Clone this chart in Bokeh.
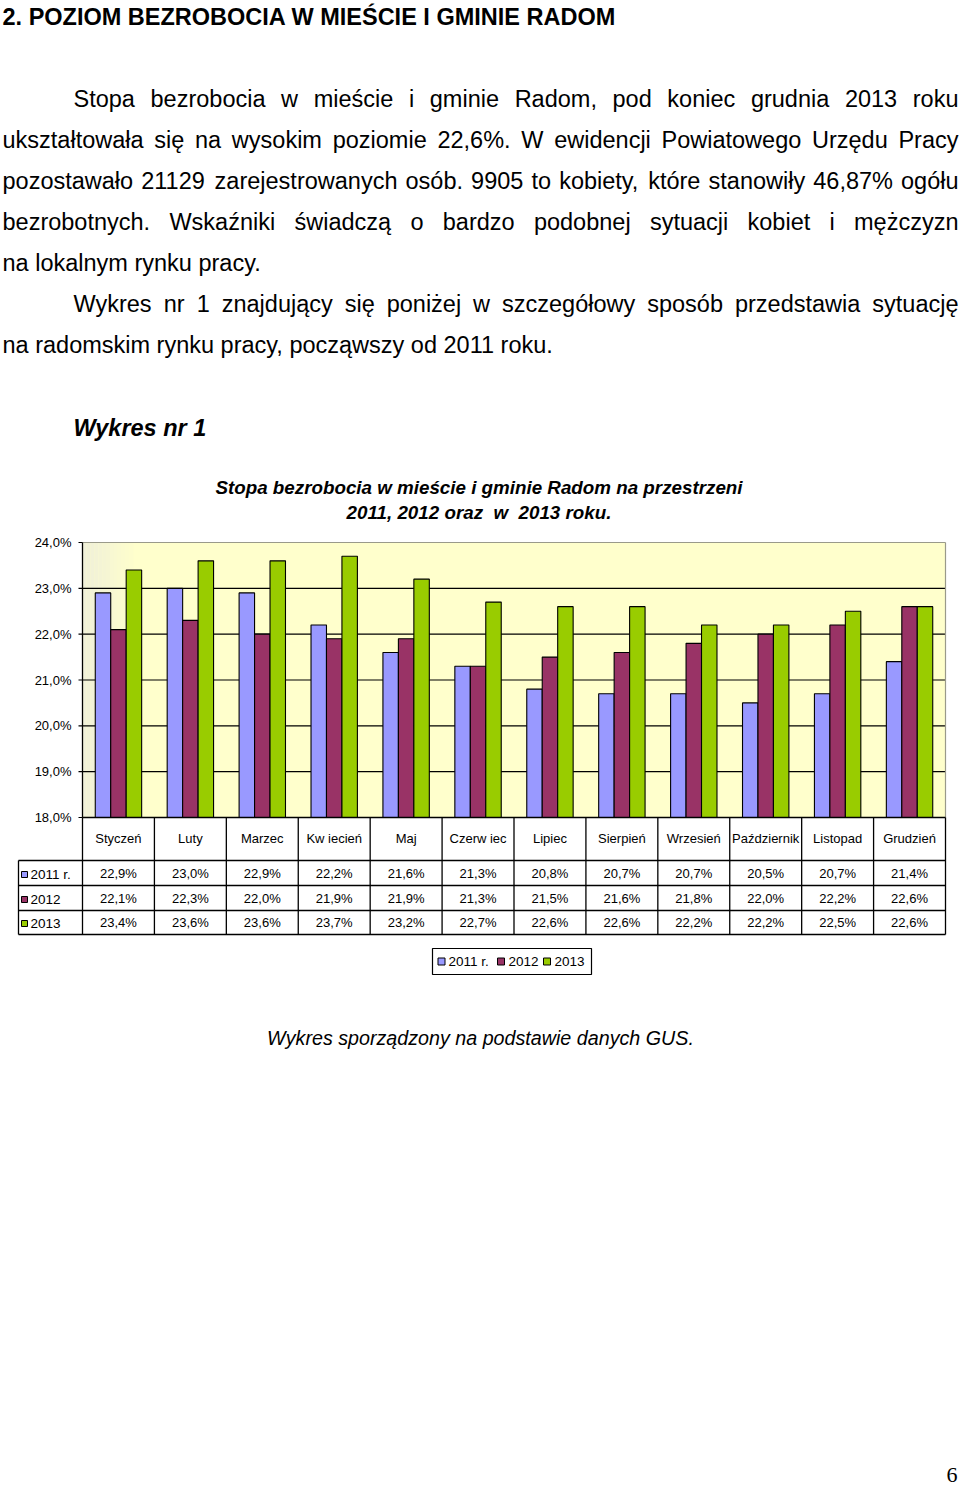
import numpy as np
from bokeh.plotting import figure
from bokeh.models import Range1d
from bokeh.core.properties import value
from bokeh.embed import file_html
from bokeh.resources import INLINE

# ---------------- data ----------------
months = ["Styczeń", "Luty", "Marzec", "Kw iecień", "Maj", "Czerw iec", "Lipiec",
          "Sierpień", "Wrzesień", "Październik", "Listopad", "Grudzień"]
series_names = ["2011 r.", "2012", "2013"]
v2011 = [22.9, 23.0, 22.9, 22.2, 21.6, 21.3, 20.8, 20.7, 20.7, 20.5, 20.7, 21.4]
v2012 = [22.1, 22.3, 22.0, 21.9, 21.9, 21.3, 21.5, 21.6, 21.8, 22.0, 22.2, 22.6]
v2013 = [23.4, 23.6, 23.6, 23.7, 23.2, 22.7, 22.6, 22.6, 22.2, 22.2, 22.5, 22.6]
y_ticks = [18, 19, 20, 21, 22, 23, 24]
y_tick_labels = ["18,0%", "19,0%", "20,0%", "21,0%", "22,0%", "23,0%", "24,0%"]

heading = "2. POZIOM BEZROBOCIA W MIEŚCIE I GMINIE RADOM"
paragraph = [
    ("indent", "Stopa bezrobocia w mieście i gminie Radom, pod koniec grudnia 2013 roku", True),
    ("left", "ukształtowała się na wysokim poziomie 22,6%. W ewidencji Powiatowego Urzędu Pracy", True),
    ("left", "pozostawało 21129 zarejestrowanych osób. 9905 to kobiety, które stanowiły 46,87% ogółu", True),
    ("left", "bezrobotnych. Wskaźniki świadczą o bardzo podobnej sytuacji kobiet i mężczyzn", True),
    ("left", "na lokalnym rynku pracy.", False),
    ("indent", "Wykres nr 1 znajdujący się poniżej w szczegółowy sposób przedstawia sytuację", True),
    ("left", "na radomskim rynku pracy, począwszy od 2011 roku.", False),
]
chart_label = "Wykres nr 1"
chart_title = ["Stopa bezrobocia w mieście i gminie Radom na przestrzeni",
               "2011, 2012 oraz\u00a0 w\u00a0 2013 roku."]
caption = "Wykres sporządzony na podstawie danych GUS."
page_no = "6"

colors = ["#9999FF", "#993366", "#99CC00"]
FONT = value("Liberation Sans")

# ---------------- geometry (page pixels) ----------------
PAGE_L, PAGE_R, PAGE_T, PAGE_B = 0, 960, 0, 1486
PA_L, PA_R, PA_T, PA_B = 82, 945, 542, 817          # plot area
YMIN, YMAX = 18, 24
cat_w = (PA_R - PA_L) / len(months)
ppu = (PA_B - PA_T) / (YMAX - YMIN)
x_lo = -0.5 - (PA_L - PAGE_L) / cat_w
x_hi = len(months) - 0.5 + (PAGE_R - PA_R) / cat_w
y_lo = YMIN - (PAGE_B - PA_B) / ppu
y_hi = YMAX + (PA_T - PAGE_T) / ppu

p = figure(width=PAGE_R - PAGE_L, height=PAGE_B - PAGE_T, x_range=Range1d(x_lo, x_hi),
           y_range=Range1d(y_lo, y_hi), output_backend="svg", toolbar_location=None, tools="",
           min_border=0, x_axis_type=None, y_axis_type=None, title=None)
p.outline_line_color = None
p.background_fill_color = "white"
p.border_fill_color = "white"
p.extra_x_ranges = {"px": Range1d(PAGE_L, PAGE_R)}
p.extra_y_ranges = {"px": Range1d(PAGE_B, PAGE_T)}
PX = dict(x_range_name="px", y_range_name="px")

# ---------------- text helpers ----------------
W = {' ': 278, '%': 889, ',': 278, '.': 278, '-': 333}
for d in "0123456789":
    W[d] = 556
W.update(dict(A=667, B=667, C=722, D=722, E=667, F=611, G=778, H=722, I=278, J=500, K=667,
              L=556, M=833, N=722, O=778, P=667, Q=778, R=722, S=667, T=611, U=722, V=667,
              W=944, X=667, Y=667, Z=611))
W.update(dict(a=556, b=556, c=500, d=556, e=556, f=278, g=556, h=556, i=222, j=222, k=500,
              l=222, m=833, n=556, o=556, p=556, q=556, r=333, s=500, t=278, u=556, v=500,
              w=722, x=500, y=500, z=500))
W.update({'ą': 556, 'ć': 500, 'ę': 556, 'ł': 222, 'ń': 556, 'ó': 556, 'ś': 500, 'ź': 500,
          'ż': 500, 'Ś': 667, 'Ł': 556, 'Ż': 611})


def tw(s, size):
    return sum(W.get(ch, 556) for ch in s) * size / 1000.0


BODY = 23.5
TEXT_L, TEXT_R = 2, 958
p.text(x=[TEXT_L], y=[16], text=[heading], text_font=FONT, text_font_style="bold",
       text_font_size="23.5px", text_align="left", text_baseline="middle", text_color="black", **PX)

line_y = [98, 139, 180, 221, 262, 303, 344]
for (kind, line, just), yy in zip(paragraph, line_y):
    left = 73 if kind == "indent" else TEXT_L
    right = TEXT_R
    if not just:
        p.text(x=[left], y=[yy], text=[line], text_font=FONT, text_font_size=f"{BODY}px",
               text_align="left", text_baseline="middle", text_color="black", **PX)
        continue
    words = line.split(" ")
    widths = [tw(w_, BODY) for w_ in words]
    gap = (right - left - sum(widths)) / (len(words) - 1)
    xs = []
    x = left
    for wd in widths:
        xs.append(x)
        x += wd + gap
    p.text(x=xs[:-1], y=[yy] * (len(words) - 1), text=words[:-1], text_font=FONT,
           text_font_size=f"{BODY}px", text_align="left", text_baseline="middle",
           text_color="black", **PX)
    p.text(x=[right], y=[yy], text=[words[-1]], text_font=FONT, text_font_size=f"{BODY}px",
           text_align="right", text_baseline="middle", text_color="black", **PX)

p.text(x=[73], y=[427], text=[chart_label], text_font=FONT, text_font_style="bold italic",
       text_font_size="23.5px", text_align="left", text_baseline="middle", text_color="black", **PX)
p.text(x=[478.5, 478.5], y=[487, 512], text=chart_title, text_font=FONT,
       text_font_style="bold italic", text_font_size="18.8px", text_align="center",
       text_baseline="middle", text_color="black", **PX)

# ---------------- plot area ----------------
n = len(months)
p.quad(left=-0.5, right=n - 0.5, bottom=YMIN, top=YMAX, fill_color="#FFFFCC", line_color=None)
c0 = np.array([0xF0, 0xF0, 0xDA])
c1 = np.array([0xFF, 0xFF, 0xCC])
nstrip = 14
grad_w = 55 / cat_w
for k in range(nstrip):
    t = k / (nstrip - 1)
    c = (c0 + (c1 - c0) * t).astype(int)
    p.quad(left=-0.5 + grad_w * k / nstrip, right=-0.5 + grad_w * (k + 1) / nstrip,
           bottom=YMIN, top=YMAX, fill_color="#%02x%02x%02x" % tuple(c), line_color=None)

p.segment(x0=[-0.5] * 5, x1=[n - 0.5] * 5, y0=y_ticks[1:-1], y1=y_ticks[1:-1],
          line_color="black", line_width=1.2)
p.segment(x0=[-0.5, n - 0.5], x1=[n - 0.5, n - 0.5], y0=[YMAX, YMIN], y1=[YMAX, YMAX],
          line_color="#9a9a8a", line_width=1.2)

idx = np.arange(n)
bw = 0.215
for vals, off, col in zip([v2011, v2012, v2013], [-bw, 0, bw], colors):
    p.vbar(x=idx + off, top=vals, bottom=YMIN, width=bw, fill_color=col,
           line_color="black", line_width=1.1)

# y axis (line, ticks, labels)
p.segment(x0=[-0.5], x1=[-0.5], y0=[YMIN], y1=[YMAX], line_color="black", line_width=1.3)
p.segment(x0=[-0.5] * len(y_ticks), x1=[-0.5 - 4 / cat_w] * len(y_ticks), y0=y_ticks,
          y1=y_ticks, line_color="black", line_width=1.2)
p.text(x=[-0.5] * len(y_ticks), y=y_ticks, text=y_tick_labels, x_offset=-11, text_font=FONT,
       text_font_size="13px", text_align="right", text_baseline="middle", text_color="black")
p.segment(x0=[-0.5], x1=[n - 0.5], y0=[YMIN], y1=[YMIN], line_color="black", line_width=1.3)

# ---------------- data table ----------------
TB_HEAD_T = PA_B
row_edges = [860, 885, 910, 934]
row_centers = [873, 898, 922]
lab_left = -0.5 - (PA_L - 18) / cat_w
TB = dict(y_range_name="px")
bounds = [k - 0.5 for k in range(n + 1)]
p.segment(x0=bounds, x1=bounds, y0=[TB_HEAD_T] * len(bounds), y1=[row_edges[-1]] * len(bounds),
          line_color="black", line_width=1.3, **TB)
p.segment(x0=[lab_left], x1=[lab_left], y0=[row_edges[0]], y1=[row_edges[-1]],
          line_color="black", line_width=1.3, **TB)
p.segment(x0=[lab_left] * 4, x1=[n - 0.5] * 4, y0=row_edges, y1=row_edges,
          line_color="black", line_width=1.3, **TB)

p.text(x=idx, y=[838] * n, text=months, text_font=FONT, text_font_size="13px",
       text_align="center", text_baseline="middle", text_color="black", **TB)


def fmt(v):
    return ("%.1f%%" % v).replace(".", ",")


for vals, yy in zip([v2011, v2012, v2013], row_centers):
    p.text(x=idx, y=[yy] * n, text=[fmt(v) for v in vals], text_font=FONT, text_font_size="13px",
           text_align="center", text_baseline="middle", text_color="black", **TB)

p.rect(x=[24] * 3, y=[yy + 1 for yy in row_centers], width=6, height=6, fill_color=colors,
       line_color="black", line_width=1, **PX)
p.text(x=[30] * 3, y=[yy + 1 for yy in row_centers], text=series_names, text_font=FONT,
       text_font_size="13.5px", text_align="left", text_baseline="middle", text_color="black", **PX)

# ---------------- legend ----------------
p.quad(left=432, right=591, top=948, bottom=974, fill_color="white", line_color="black",
       line_width=1.2, **PX)
p.rect(x=[441, 500.5, 546.5], y=[961] * 3, width=7, height=7, fill_color=colors,
       line_color="black", line_width=1, **PX)
p.text(x=[448, 508, 554], y=[961] * 3, text=series_names, text_font=FONT,
       text_font_size="13.5px", text_align="left", text_baseline="middle", text_color="black", **PX)

# ---------------- caption & page number ----------------
p.text(x=[480], y=[1037], text=[caption], text_font=FONT, text_font_style="italic",
       text_font_size="19.7px", text_align="center", text_baseline="middle", text_color="black", **PX)
p.text(x=[957], y=[1474], text=[page_no], text_font=value("Liberation Serif"),
       text_font_size="22px", text_align="right", text_baseline="middle", text_color="black", **PX)

open("out.html", "w").write(file_html(p, INLINE))
